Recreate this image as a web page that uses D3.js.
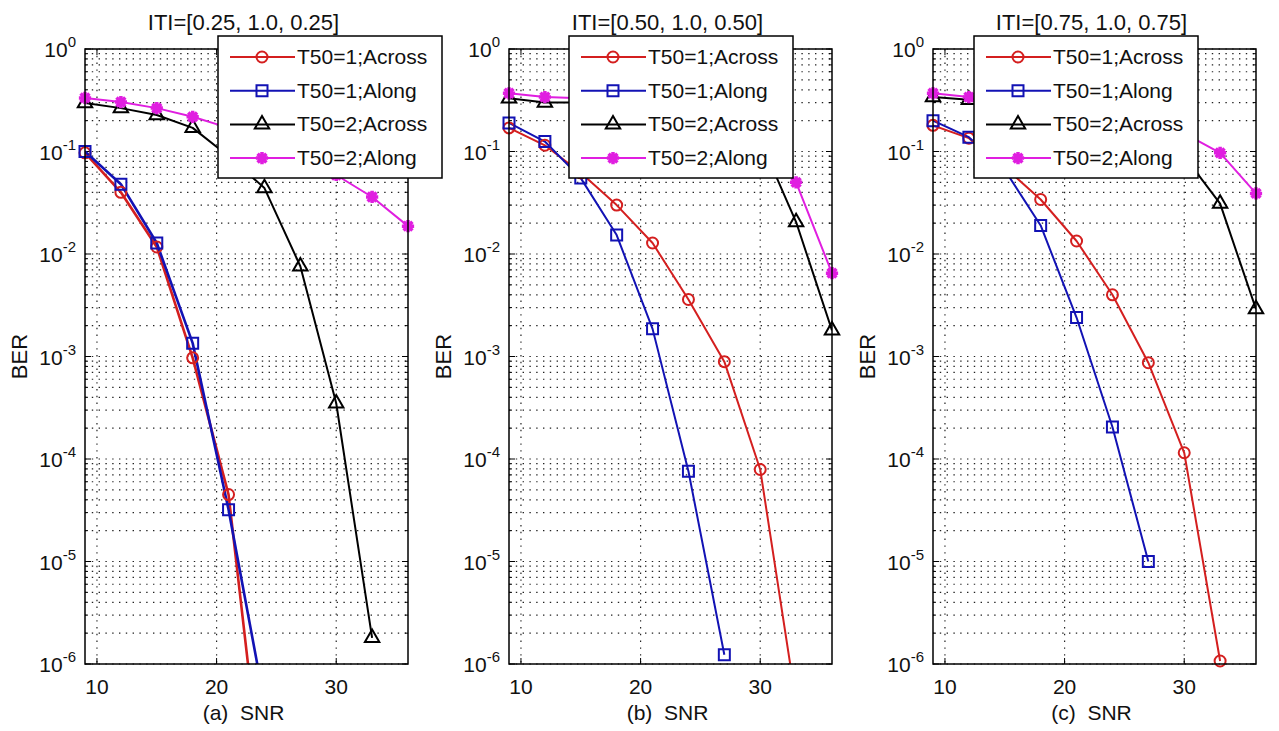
<!DOCTYPE html>
<html>
<head>
<meta charset="utf-8">
<script src="https://cdn.jsdelivr.net/npm/d3@7"></script>
<style>
  html, body { margin: 0; padding: 0; background: #fff; }
  svg { display: block; }
  text { font-family: "Liberation Sans", Arial, sans-serif; fill: #111; white-space: pre; }
</style>
</head>
<body>
<svg id="chart" width="1279" height="731"></svg>
<script>
// ---------------- DATA ----------------
const snr = [9, 12, 15, 18, 21, 24, 27, 30, 33, 36];
const seriesLabels = ["T50=1;Across", "T50=1;Along", "T50=2;Across", "T50=2;Along"];
const panelTitles = ["ITI=[0.25, 1.0, 0.25]", "ITI=[0.50, 1.0, 0.50]", "ITI=[0.75, 1.0, 0.75]"];
const panelXLabels = ["(a)  SNR", "(b)  SNR", "(c)  SNR"];
const xTickValues = [10, 20, 30];
const yTickExponents = [0, -1, -2, -3, -4, -5, -6];
const yLabel = "BER";

// panel (a)
const a_T1Across = [0.097, 0.040, 0.0117, 0.00097, 4.5e-5, 4e-8];
const a_T1Along  = [0.100, 0.048, 0.0128, 0.00135, 3.2e-5, 4.2e-7];
const a_T2Across = [0.297, 0.265, 0.227, 0.170, 0.090, 0.044, 0.0076, 3.5e-4, 1.8e-6];
const a_T2Along  = [0.333, 0.304, 0.265, 0.218, 0.170, 0.130, 0.088, 0.059, 0.036, 0.0187];
// panel (b)
const b_T1Across = [0.170, 0.115, 0.062, 0.030, 0.0128, 0.0036, 8.9e-4, 7.9e-5, 4.2e-7];
const b_T1Along  = [0.190, 0.125, 0.055, 0.0153, 0.00186, 7.6e-5, 1.23e-6];
const b_T2Across = [0.330, 0.300, 0.300, 0.290, 0.280, 0.260, 0.220, 0.130, 0.0205, 0.0018];
const b_T2Along  = [0.370, 0.340, 0.330, 0.320, 0.310, 0.290, 0.250, 0.170, 0.050, 0.0065];
// panel (c)
const c_T1Across = [0.180, 0.135, 0.070, 0.034, 0.0134, 0.0040, 8.7e-4, 1.15e-4, 1.07e-6];
const c_T1Along  = [0.200, 0.138, 0.066, 0.019, 0.0024, 2.05e-4, 1.0e-5];
const c_T2Across = [0.340, 0.320, 0.320, 0.310, 0.290, 0.250, 0.180, 0.090, 0.031, 0.0029];
const c_T2Along  = [0.370, 0.340, 0.330, 0.320, 0.300, 0.270, 0.220, 0.150, 0.097, 0.039];

const panelData = [
  [a_T1Across, a_T1Along, a_T2Across, a_T2Along],
  [b_T1Across, b_T1Along, b_T2Across, b_T2Along],
  [c_T1Across, c_T1Along, c_T2Across, c_T2Along]
];

// ---------------- LAYOUT / STYLE ----------------
const panelLefts = [85, 509, 933];
const panelWidth = 323;
const plotTop = 49, plotBottom = 664;
const legendLefts = [218, 569, 974];
const legendTop = 36, legendW = 224, legendH = 142;

const seriesStyle = [
  { color: "#d41f1f", marker: "circle" },
  { color: "#1212b4", marker: "square" },
  { color: "#000000", marker: "triangle" },
  { color: "#e01ee0", marker: "asterisk" }
];

const asteriskType = {
  draw(ctx, size) {
    const r = Math.sqrt(size) / 2;
    const d = r * 0.72;
    ctx.moveTo(-r, 0); ctx.lineTo(r, 0);
    ctx.moveTo(0, -r); ctx.lineTo(0, r);
    ctx.moveTo(-d, -d); ctx.lineTo(d, d);
    ctx.moveTo(-d, d); ctx.lineTo(d, -d);
  }
};

function markerPath(kind) {
  if (kind === "circle") return d3.symbol().type(d3.symbolCircle).size(95)();
  if (kind === "square") return d3.symbol().type(d3.symbolSquare).size(121)();
  if (kind === "triangle") return d3.symbol().type(d3.symbolTriangle).size(90)();
  return d3.symbol().type(asteriskType).size(150)();
}
function markerStrokeWidth(kind) {
  return kind === "asterisk" ? 3.5 : 2;
}

const svg = d3.select("#chart");
const defs = svg.append("defs");

panelData.forEach((series, pi) => {
  const left = panelLefts[pi], right = left + panelWidth;
  const x = d3.scaleLinear().domain([9, 36]).range([left, right]);
  const y = d3.scaleLog().domain([1e-6, 1]).range([plotBottom, plotTop]);

  const g = svg.append("g");

  defs.append("clipPath").attr("id", "clip" + pi)
    .append("rect").attr("x", left).attr("y", plotTop)
    .attr("width", panelWidth).attr("height", plotBottom - plotTop);

  // grid: minor + major y (dotted)
  const yGrid = [];
  for (let e = -6; e <= 0; e++) {
    for (let m = 1; m <= 9; m++) {
      const v = m * Math.pow(10, e);
      if (v <= 1 + 1e-12) yGrid.push(v);
    }
  }
  g.append("g").selectAll("line").data(yGrid).join("line")
    .attr("x1", left).attr("x2", right)
    .attr("y1", d => y(d)).attr("y2", d => y(d))
    .attr("stroke", "#222").attr("stroke-width", 1.2)
    .attr("stroke-dasharray", "1.4,5.4");
  g.append("g").selectAll("line").data(xTickValues).join("line")
    .attr("x1", d => x(d)).attr("x2", d => x(d))
    .attr("y1", plotTop).attr("y2", plotBottom)
    .attr("stroke", "#222").attr("stroke-width", 1.2)
    .attr("stroke-dasharray", "1.4,5.4");

  // ticks (inward, both sides)
  const minorTicks = yGrid.filter(v => Math.abs(Math.log10(v) - Math.round(Math.log10(v))) > 1e-9);
  const majorTicks = yTickExponents.map(e => Math.pow(10, e));
  const tickG = g.append("g").attr("stroke", "#000").attr("stroke-width", 1);
  [[left, 1], [right, -1]].forEach(([xx, dir]) => {
    tickG.append("g").selectAll("line").data(majorTicks).join("line")
      .attr("x1", xx).attr("x2", xx + dir * 6)
      .attr("y1", d => y(d)).attr("y2", d => y(d));
    tickG.append("g").selectAll("line").data(minorTicks).join("line")
      .attr("x1", xx).attr("x2", xx + dir * 3)
      .attr("y1", d => y(d)).attr("y2", d => y(d));
  });
  [[plotBottom, -1], [plotTop, 1]].forEach(([yy, dir]) => {
    tickG.append("g").selectAll("line").data(xTickValues).join("line")
      .attr("x1", d => x(d)).attr("x2", d => x(d))
      .attr("y1", yy).attr("y2", yy + dir * 6);
  });

  // series lines (clipped)
  const lineGen = d3.line().x(d => x(d[0])).y(d => y(d[1]));
  const lineG = g.append("g").attr("clip-path", "url(#clip" + pi + ")");
  series.forEach((vals, si) => {
    const pts = vals.map((v, i) => [snr[i], v]);
    lineG.append("path").datum(pts)
      .attr("d", lineGen)
      .attr("fill", "none")
      .attr("stroke", seriesStyle[si].color)
      .attr("stroke-width", pi === 0 && si < 2 ? 2.6 : 2)
      .attr("stroke-linejoin", "round");
  });
  // markers (only points inside y range)
  series.forEach((vals, si) => {
    const st = seriesStyle[si];
    const pts = vals.map((v, i) => [snr[i], v]).filter(p => p[1] >= 1e-6 * 0.999 && p[1] <= 1);
    g.append("g").selectAll("path").data(pts).join("path")
      .attr("transform", d => `translate(${x(d[0])},${y(d[1])})`)
      .attr("d", markerPath(st.marker))
      .attr("fill", "none")
      .attr("stroke", st.color)
      .attr("stroke-width", markerStrokeWidth(st.marker));
  });

  // frame
  g.append("rect").attr("x", left).attr("y", plotTop)
    .attr("width", panelWidth).attr("height", plotBottom - plotTop)
    .attr("fill", "none").attr("stroke", "#000").attr("stroke-width", 1.5);

  // y tick labels 10^e
  const yl = g.append("g").selectAll("text").data(yTickExponents).join("text")
    .attr("x", left - 22).attr("y", d => y(Math.pow(10, d)) + 8)
    .attr("text-anchor", "start").attr("font-size", 21);
  yl.append("tspan").text("10");
  yl.append("tspan").attr("dy", -10).attr("font-size", 15).text(d => d === 0 ? "0" : String(d));
  yl.each(function () {
    const bb = this.getBBox();
    d3.select(this).attr("x", left - 9 - bb.width);
  });

  // x tick labels
  g.append("g").selectAll("text").data(xTickValues).join("text")
    .attr("x", d => x(d)).attr("y", 694)
    .attr("text-anchor", "middle").attr("font-size", 21)
    .text(d => d);

  // title & axis labels
  g.append("text").attr("x", (left + right) / 2 - 3).attr("y", 30)
    .attr("text-anchor", "middle").attr("font-size", 22).text(panelTitles[pi]);
  g.append("text").attr("x", (left + right) / 2 - 3).attr("y", 720)
    .attr("text-anchor", "middle").attr("font-size", 21).text(panelXLabels[pi]);
  g.append("text")
    .attr("transform", `translate(${left - 58},${(plotTop + plotBottom) / 2}) rotate(-90)`)
    .attr("text-anchor", "middle").attr("font-size", 22).text(yLabel);
});

// legends on top
panelLefts.forEach((_, pi) => {
  const lx = legendLefts[pi];
  const lg = svg.append("g");
  lg.append("rect").attr("x", lx).attr("y", legendTop)
    .attr("width", legendW).attr("height", legendH)
    .attr("fill", "#fff").attr("stroke", "#000").attr("stroke-width", 1.5);
  const rowY = i => legendTop + 21 + i * 33.7;
  seriesLabels.forEach((lab, si) => {
    const st = seriesStyle[si];
    lg.append("line").attr("x1", lx + 12).attr("x2", lx + 77)
      .attr("y1", rowY(si)).attr("y2", rowY(si))
      .attr("stroke", st.color).attr("stroke-width", 2);
    lg.append("path").attr("transform", `translate(${lx + 44},${rowY(si)})`)
      .attr("d", markerPath(st.marker)).attr("fill", "none")
      .attr("stroke", st.color).attr("stroke-width", markerStrokeWidth(st.marker));
    lg.append("text").attr("x", lx + 79).attr("y", rowY(si) + 7)
      .attr("font-size", 21).text(lab);
  });
});
</script>
</body>
</html>
